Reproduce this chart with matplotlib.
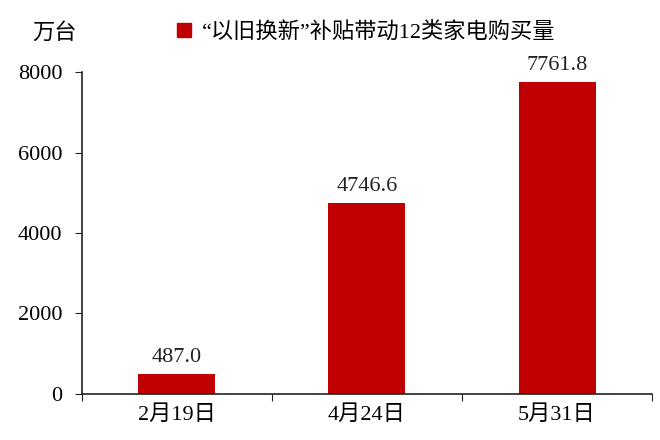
import matplotlib.pyplot as plt
from matplotlib.patches import Patch

plt.rcParams['font.family'] = ['Liberation Serif', 'Noto Sans CJK SC']

categories = ['2月19日', '4月24日', '5月31日']
values = [487.0, 4746.6, 7761.8]
series_name = '“以旧换新”补贴带动12类家电购买量'
yticks = [0, 2000, 4000, 6000, 8000]
bar_color = '#C00000'
fs = 16

fig = plt.figure(figsize=(6.6, 4.4), dpi=100)
ax = fig.add_axes([0.124, 0.105, 0.864, 0.731])

x = list(range(len(categories)))
bars = ax.bar(x, values, width=0.405, color=bar_color)
for xi, v in zip(x, values):
    ax.annotate(f'{v:.1f}', (xi, v), xytext=(0, 5), textcoords='offset points',
                ha='center', va='bottom', fontsize=fs, color='#222222')

ax.set_xlim(-0.5, 2.5)
ax.set_ylim(0, 8000)
ax.set_yticks(yticks)
ax.set_yticklabels([str(t) for t in yticks], fontsize=fs)
ax.set_xticks([-0.5, 0.5, 1.5, 2.5])
ax.set_xticklabels([])
ax.set_xticks(x, minor=True)
ax.set_xticklabels(categories, minor=True, fontsize=fs)
ax.tick_params(axis='x', which='minor', length=0, pad=8)
ax.tick_params(axis='x', which='major', length=5, direction='out', color='#222222')
ax.tick_params(axis='y', length=5, direction='out', pad=9, color='#222222')
for s in ['top', 'right']:
    ax.spines[s].set_visible(False)
for s in ['left', 'bottom']:
    ax.spines[s].set_color('#222222')
    ax.spines[s].set_linewidth(1.2)

fig.text(0.082, 0.925, '万台', fontsize=fs, ha='center', va='center')
fig.legend(handles=[Patch(color=bar_color, label=series_name)], loc='center',
           bbox_to_anchor=(0.555, 0.927), frameon=False, fontsize=fs,
           handlelength=0.6, handleheight=0.6, handletextpad=0.5)

plt.savefig('out.png', dpi=100)
